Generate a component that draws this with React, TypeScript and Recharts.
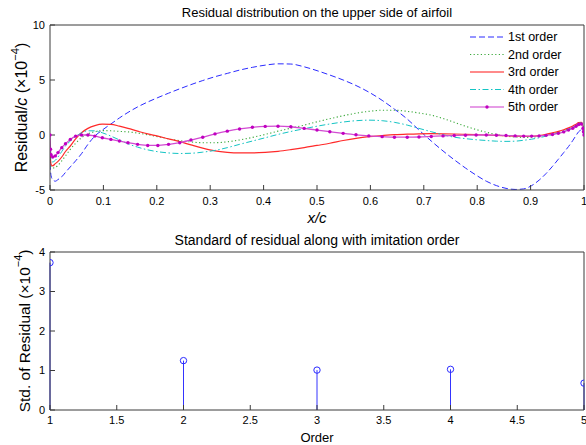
import React from 'react';
import { LineChart, Line, XAxis, YAxis, ComposedChart, Scatter, ReferenceLine, Label } from 'recharts';

// ---------- data ----------
const xc = [0, 0.001, 0.002, 0.005, 0.01, 0.015, 0.022, 0.029, 0.038, 0.048, 0.059, 0.071, 0.084, 0.098, 0.114, 0.13, 0.146, 0.164, 0.183, 0.202, 0.222, 0.243, 0.264, 0.286, 0.309, 0.332, 0.355, 0.379, 0.403, 0.427, 0.451, 0.476, 0.5, 0.524, 0.549, 0.573, 0.597, 0.622, 0.645, 0.669, 0.691, 0.714, 0.736, 0.757, 0.778, 0.798, 0.817, 0.836, 0.854, 0.871, 0.887, 0.902, 0.916, 0.929, 0.941, 0.952, 0.962, 0.971, 0.979, 0.985, 0.99, 0.995, 0.998, 0.999, 1];

const order1 = [-2.6, -3.3, -3.7, -4.05, -4.2, -4.05, -3.8, -3.4, -2.9, -2.35, -1.7, -0.85, -0.1, 0.45, 1.0, 1.55, 2.05, 2.55, 3.0, 3.4, 3.8, 4.2, 4.58, 4.95, 5.3, 5.6, 5.9, 6.15, 6.35, 6.47, 6.45, 6.2, 5.85, 5.45, 5.0, 4.5, 3.9, 3.15, 2.35, 1.45, 0.45, -0.55, -1.45, -2.25, -3.0, -3.65, -4.2, -4.6, -4.85, -4.95, -4.9, -4.6, -4.1, -3.5, -2.85, -2.2, -1.6, -1.05, -0.5, -0.05, 0.3, 0.45, 0.25, 0.1, 0];

const order2 = [-1.8, -2.5, -2.85, -3.0, -2.95, -2.75, -2.35, -1.9, -1.3, -0.75, -0.25, 0.1, 0.3, 0.4, 0.38, 0.33, 0.28, 0.18, 0.02, -0.15, -0.35, -0.52, -0.63, -0.7, -0.7, -0.62, -0.45, -0.22, 0.05, 0.35, 0.62, 0.9, 1.2, 1.48, 1.75, 1.98, 2.15, 2.25, 2.25, 2.15, 2.0, 1.8, 1.5, 1.15, 0.8, 0.5, 0.25, 0.05, -0.1, -0.18, -0.22, -0.2, -0.12, 0.0, 0.12, 0.25, 0.38, 0.55, 0.72, 0.9, 1.1, 1.15, 0.7, 0.35, 0];

const order3 = [-1.6, -2.3, -2.7, -2.8, -2.6, -2.4, -2.0, -1.5, -1.0, -0.35, 0.2, 0.6, 0.85, 0.98, 0.97, 0.8, 0.6, 0.35, 0.1, -0.1, -0.35, -0.6, -0.9, -1.2, -1.45, -1.58, -1.63, -1.63, -1.58, -1.48, -1.33, -1.15, -0.95, -0.75, -0.5, -0.3, -0.15, -0.05, 0.03, 0.08, 0.11, 0.12, 0.11, 0.09, 0.06, 0.03, 0.0, -0.04, -0.07, -0.1, -0.12, -0.12, -0.06, 0.05, 0.2, 0.33, 0.48, 0.65, 0.82, 0.98, 1.12, 1.15, 0.7, 0.35, 0];

const order4 = [-1.3, -2.0, -2.3, -2.45, -2.3, -2.0, -1.5, -1.0, -0.55, -0.15, 0.2, 0.38, 0.38, 0.2, -0.1, -0.45, -0.8, -1.1, -1.35, -1.52, -1.63, -1.68, -1.66, -1.56, -1.4, -1.15, -0.85, -0.55, -0.25, 0.05, 0.32, 0.57, 0.8, 1.0, 1.18, 1.3, 1.35, 1.3, 1.15, 0.9, 0.6, 0.3, 0.02, -0.2, -0.33, -0.43, -0.5, -0.56, -0.58, -0.56, -0.48, -0.38, -0.25, -0.1, 0.05, 0.2, 0.35, 0.52, 0.7, 0.88, 1.05, 1.1, 0.65, 0.3, 0];

const order5 = [0, -1.3, -1.8, -2.0, -1.9, -1.6, -1.15, -0.8, -0.4, -0.1, 0.0, 0.0, -0.1, -0.25, -0.4, -0.55, -0.7, -0.85, -0.95, -0.95, -0.85, -0.7, -0.45, -0.2, 0.1, 0.35, 0.55, 0.7, 0.78, 0.8, 0.75, 0.6, 0.45, 0.3, 0.15, 0.02, -0.08, -0.15, -0.2, -0.2, -0.18, -0.13, -0.08, -0.05, -0.02, 0, 0, -0.02, -0.05, -0.08, -0.1, -0.1, -0.08, -0.03, 0.05, 0.15, 0.28, 0.45, 0.62, 0.8, 0.95, 1.0, 0.6, 0.3, 0];

const seriesNames = ['1st order', '2nd order', '3rd order', '4th order', '5th order'];

const orders = [1, 2, 3, 4, 5];
const stdResidual = [3.73, 1.25, 1.01, 1.03, 0.68];

const xTicks = [0, 0.1, 0.2, 0.3, 0.4, 0.5, 0.6, 0.7, 0.8, 0.9, 1];
const residualTicks = [-5, 0, 5, 10];
const orderTicks = [1, 1.5, 2, 2.5, 3, 3.5, 4, 4.5, 5];
const stdTicks = [0, 1, 2, 3, 4];

// ---------- styling ----------
const FONT = '"Liberation Sans", Arial, Helvetica, sans-serif';
const AXIS = '#3a3a3a';
const TICK = { fill: '#000', fontSize: 11, fontFamily: FONT };

const seriesStyle = [
  { key: 'o1', color: '#2b2bff', dash: '6 3', width: 1 },
  { key: 'o2', color: '#3aa83a', dash: '1.2 2.4', width: 1.1 },
  { key: 'o3', color: '#ff2a2a', dash: undefined, width: 1.2 },
  { key: 'o4', color: '#14c4c4', dash: '6 2.5 1.5 2.5', width: 1 },
  { key: 'o5', color: '#d24bd2', dash: undefined, width: 1.3 },
];
const seriesData = [order1, order2, order3, order4, order5];

const topData = xc.map((x, i) => {
  const row: Record<string, number> = { x };
  seriesStyle.forEach((s, k) => {
    row[s.key] = seriesData[k][i];
  });
  return row;
});

const stemData = orders.map((o, i) => ({ order: o, std: stdResidual[i] }));

// ---------- labels ----------
const makeTitle = (text: string, size: number, dy: number) => (props: any) => {
  const vb = props.viewBox || {};
  return (
    <text x={vb.x + vb.width / 2} y={vb.y + vb.height + dy} textAnchor="middle" dominantBaseline="central"
      fontFamily={FONT} fontSize={size} fill="#000">{text}</text>
  );
};

const XcLabel = (props: any) => {
  const vb = props.viewBox || {};
  return (
    <text x={vb.x + vb.width / 2} y={vb.y + 27} textAnchor="middle" dominantBaseline="central"
      fontFamily={FONT} fontSize={15} fontStyle="italic" fill="#000">x/c</text>
  );
};

const OrderLabel = (props: any) => {
  const vb = props.viewBox || {};
  return (
    <text x={vb.x + vb.width / 2} y={vb.y + 27} textAnchor="middle" dominantBaseline="central"
      fontFamily={FONT} fontSize={13} fill="#000">Order</text>
  );
};

const makeYLabel = (kind: 'res' | 'std', size: number, cx: number) => (props: any) => {
  const vb = props.viewBox || {};
  const cy = vb.y + vb.height / 2;
  return (
    <text x={cx} y={cy} transform={`rotate(-90, ${cx}, ${cy})`} textAnchor="middle" dominantBaseline="central"
      fontFamily={FONT} fontSize={size} fill="#000">
      {kind === 'res' ? (
        <>
          <tspan>Residual/</tspan>
          <tspan fontStyle="italic">c</tspan>
          <tspan> (×10</tspan>
        </>
      ) : (
        <tspan>Std. of Residual (×10</tspan>
      )}
      <tspan dy={-6} fontSize={size * 0.7}>−4</tspan>
      <tspan dy={6}>)</tspan>
    </text>
  );
};

const Legend = () => {
  const rowY = [37, 54.5, 72, 89.5, 107];
  return (
    <svg width={586} height={232} style={{ position: 'absolute', left: 0, top: 0, pointerEvents: 'none' }}>
      {seriesNames.map((name, i) => {
        const s = seriesStyle[i];
        return (
          <g key={name}>
            <line x1={470} x2={504} y1={rowY[i]} y2={rowY[i]} stroke={s.color}
              strokeWidth={i === 2 || i === 4 ? 2 : s.width} strokeDasharray={s.dash}
              strokeOpacity={i === 2 || i === 4 ? 0.55 : 1} />
            {i === 4 && <circle cx={487} cy={rowY[i]} r={1.7} fill="#c000c0" />}
            <text x={508} y={rowY[i]} dominantBaseline="central" fontFamily={FONT} fontSize={12.5} fill="#000">{name}</text>
          </g>
        );
      })}
    </svg>
  );
};

export default function App() {
  return (
    <div style={{ position: 'absolute', left: 0, top: 0, width: 586, height: 445, background: '#fff' }}>
      <div style={{ position: 'absolute', left: 0, top: 0 }}>
        <LineChart width={586} height={232} data={topData} margin={{ top: 24, right: 1, bottom: 0, left: 0 }}>
          <XAxis xAxisId="b" dataKey="x" type="number" domain={[0, 1]} ticks={xTicks} interval={0} allowDataOverflow
            height={42} tickSize={-5} tickMargin={12} stroke={AXIS} tick={TICK}>
            <Label content={XcLabel} />
          </XAxis>
          <XAxis xAxisId="t" orientation="top" dataKey="x" type="number" domain={[0, 1]} ticks={xTicks} interval={0}
            allowDataOverflow height={1} tickSize={-5} tick={false} stroke={AXIS}>
            <Label content={makeTitle('Residual distribution on the upper side of airfoil', 13, -13)} />
          </XAxis>
          <YAxis yAxisId="l" type="number" domain={[-5, 10]} ticks={residualTicks} interval={0} allowDataOverflow
            width={50} tickSize={-5} tickMargin={10} stroke={AXIS} tick={TICK}>
            <Label content={makeYLabel('res', 16, 21)} />
          </YAxis>
          <YAxis yAxisId="r" orientation="right" type="number" domain={[-5, 10]} ticks={residualTicks} interval={0}
            allowDataOverflow width={1} tickSize={-5} tick={false} stroke={AXIS} />
          {/* invisible series so the frame axes (top/right) are active */}
          <Line xAxisId="t" yAxisId="r" dataKey="o1" stroke="none" strokeWidth={0} dot={false} activeDot={false}
            legendType="none" isAnimationActive={false} />
          {seriesStyle.map((s, i) => (
            <Line key={s.key} xAxisId="b" yAxisId="l" type="monotone" dataKey={s.key} name={seriesNames[i]}
              stroke={s.color} strokeWidth={s.width} strokeDasharray={s.dash}
              dot={i === 4 ? { r: 1.7, fill: '#c000c0', stroke: 'none' } : false}
              activeDot={false} isAnimationActive={false} />
          ))}
        </LineChart>
        <Legend />
      </div>
      <div style={{ position: 'absolute', left: 0, top: 232 }}>
        <ComposedChart width={586} height={213} data={stemData} margin={{ top: 19, right: 1, bottom: 0, left: 0 }}>
          <XAxis xAxisId="b" dataKey="order" type="number" domain={[1, 5]} ticks={orderTicks} interval={0} allowDataOverflow
            height={35} tickSize={-5} tickMargin={11} stroke={AXIS} tick={TICK}>
            <Label content={OrderLabel} />
          </XAxis>
          <XAxis xAxisId="t" orientation="top" dataKey="order" type="number" domain={[1, 5]} ticks={orderTicks} interval={0}
            allowDataOverflow height={1} tickSize={-5} tick={false} stroke={AXIS}>
            <Label content={makeTitle('Standard of residual along with imitation order', 14, -12)} />
          </XAxis>
          <YAxis yAxisId="l" dataKey="std" type="number" domain={[0, 4]} ticks={stdTicks} interval={0} allowDataOverflow
            width={50} tickSize={-5} tickMargin={10} stroke={AXIS} tick={TICK}>
            <Label content={makeYLabel('std', 15.5, 24)} />
          </YAxis>
          <YAxis yAxisId="r" orientation="right" type="number" domain={[0, 4]} ticks={stdTicks} interval={0}
            allowDataOverflow width={1} tickSize={-5} tick={false} stroke={AXIS} />
          <Line xAxisId="t" yAxisId="r" dataKey="std" stroke="none" strokeWidth={0} dot={false} activeDot={false}
            legendType="none" isAnimationActive={false} />
          {stemData.map((d) => (
            <ReferenceLine key={d.order} xAxisId="b" yAxisId="l" segment={[{ x: d.order, y: 0 }, { x: d.order, y: d.std }]}
              stroke="#3434ff" strokeWidth={1} ifOverflow="visible" />
          ))}
          <Scatter xAxisId="b" yAxisId="l" dataKey="std" isAnimationActive={false}
            shape={(p: any) => <circle cx={p.cx} cy={p.cy} r={3.2} fill="none" stroke="#2b2bff" strokeWidth={1} />} />
        </ComposedChart>
      </div>
    </div>
  );
}
